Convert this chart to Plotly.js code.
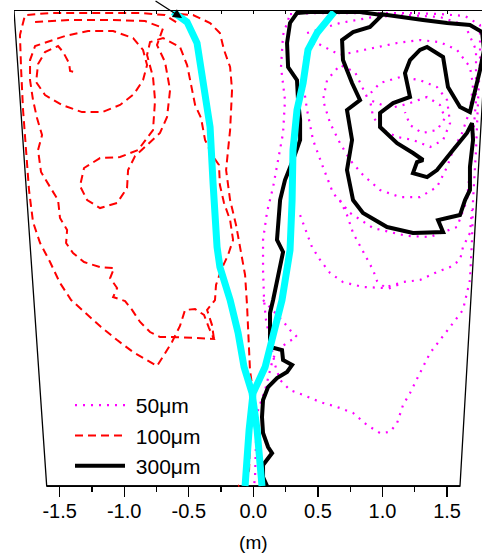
<!DOCTYPE html>
<html>
<head>
<meta charset="utf-8">
<script src="https://cdn.plot.ly/plotly-3.0.1.min.js"></script>
<style>html,body{margin:0;padding:0;background:#fff}#chart{width:482px;height:554px}</style>
</head>
<body>
<div id="chart"></div>
<script>
// ---- tick labels ----
const majorTicks = [-1.5, -1.0, -0.5, 0.0, 0.5, 1.0, 1.5];
const majorTickText = ['-1.5', '-1.0', '-0.5', '0.0', '0.5', '1.0', '1.5'];
const minorTicks = [-1.25, -0.75, -0.25, 0.25, 0.75, 1.25];
const seriesNames = ['50\u03bcm', '100\u03bcm', '300\u03bcm'];

// ---- vessel outline (m) ----
const vesselX = [-1.853, -1.6, 1.6, 1.814];
const vesselY = [3.678, 0, 0, 3.678];

// ---- jet (cyan) ----
const jetA_x = [-0.622, -0.513, -0.436, -0.389, -0.335, -0.312, -0.297, -0.281, -0.259, -0.180, -0.118, -0.072, -0.010, 0.029, 0.067];
const jetA_y = [3.670, 3.592, 3.430, 3.120, 2.779, 2.346, 2.059, 1.850, 1.695, 1.440, 1.185, 0.921, 0.720, 0.434, 0.000];
const jetB_x = [0.625, 0.555, 0.493, 0.423, 0.385, 0.338, 0.307, 0.300, 0.284, 0.222, 0.153, 0.091, -0.002, -0.033, -0.064];
const jetB_y = [3.670, 3.592, 3.507, 3.376, 3.120, 2.911, 2.601, 2.214, 1.827, 1.440, 1.185, 0.921, 0.720, 0.434, 0.000];

// ---- 300 um (black) ----
const p300_x = [0.981, 1.136, 1.314, 1.500, 1.677, 1.771, 1.786, 1.755, 1.709, 1.677,
  1.600, 1.507, 1.469, 1.345, 1.290, 1.213, 1.174, 1.213, 1.082, 0.981, 0.981, 1.113, 1.236, 1.314, 1.267, 1.236, 1.345, 1.422, 1.546, 1.654, 1.693,
  1.701, 1.677, 1.677, 1.639, 1.600, 1.500, 1.430, 1.469, 1.236, 1.035, 0.849, 0.772, 0.725, 0.764, 0.725, 0.826, 0.764, 0.694, 0.687, 0.772, 0.903, 0.996,
  0.826, 0.648, 0.439, 0.338, 0.284, 0.261, 0.269, 0.338, 0.346, 0.362, 0.362, 0.307, 0.245, 0.207, 0.183, 0.230, 0.207, 0.153, 0.129, 0.129,
  0.222, 0.230, 0.300, 0.261, 0.183, 0.114, 0.075, 0.067, 0.075, 0.114, 0.145, 0.106, 0.075, 0.075, 0.106];
const p300_y = [3.654, 3.631, 3.608, 3.585, 3.569, 3.515, 3.376, 3.221, 3.027, 2.895,
  2.934, 3.089, 3.321, 3.399, 3.376, 3.298, 3.197, 3.012, 2.965, 2.888, 2.779, 2.655, 2.578, 2.524, 2.508, 2.423, 2.392, 2.446, 2.601, 2.733, 2.810,
  2.679, 2.470, 2.292, 2.214, 2.098, 2.075, 2.059, 1.966, 1.959, 2.005, 2.114, 2.214, 2.446, 2.679, 2.911, 2.988, 3.120, 3.298, 3.453, 3.515, 3.554, 3.646,
  3.670, 3.670, 3.670, 3.662, 3.585, 3.430, 3.244, 3.143, 2.988, 2.834, 2.679, 2.524, 2.369, 2.214, 1.905, 1.812, 1.695, 1.440, 1.339, 1.076,
  1.053, 0.975, 0.937, 0.883, 0.836, 0.766, 0.666, 0.534, 0.410, 0.302, 0.255, 0.201, 0.163, 0.070, 0.000];

// ---- 100 um (red) : three trajectory pieces ----
const p100a_x = [-0.598, -0.684, -0.877, -1.109, -1.342, -1.574, -1.768, -1.807, -1.798, -1.783, -1.760, -1.737, -1.706, -1.651, -1.574, -1.497, -1.411, -1.295, -1.179, -1.055, -0.931, -0.823, -0.746,
  -0.692, -0.630, -0.568, -0.529, -0.451, -0.382, -0.343, -0.305, -0.451, -0.606, -0.723, -0.800, -0.877, -0.939, -0.993, -1.086, -1.055, -1.109, -1.078, -1.187, -1.311, -1.396, -1.450, -1.442, -1.497, -1.512, -1.574, -1.644, -1.667, -1.636, -1.675, -1.706, -1.729, -1.729, -1.690,
  -1.613, -1.458, -1.280, -1.086, -0.931, -0.854, -0.823, -0.854, -0.924, -1.032, -1.171, -1.326, -1.481, -1.613, -1.682, -1.667, -1.613, -1.512, -1.473, -1.427, -1.419, -1.380];
const p100a_y = [3.592, 3.646, 3.662, 3.662, 3.662, 3.662, 3.646, 3.492, 3.221, 2.911, 2.601, 2.292, 2.044, 1.881, 1.734, 1.572, 1.440, 1.332, 1.231, 1.130, 1.037, 0.975, 0.929,
  1.014, 1.115, 1.239, 1.363, 1.370, 1.324, 1.223, 1.138, 1.146, 1.154, 1.154, 1.192, 1.270, 1.363, 1.432, 1.463, 1.533, 1.610, 1.688, 1.695, 1.734, 1.804, 1.881, 1.982, 2.075, 2.214, 2.315, 2.431, 2.601, 2.717, 2.849, 2.988, 3.143, 3.298, 3.406,
  3.430, 3.484, 3.523, 3.523, 3.468, 3.376, 3.259, 3.143, 3.035, 2.950, 2.895, 2.895, 2.950, 3.027, 3.128, 3.267, 3.360, 3.406, 3.360, 3.275, 3.213, 3.205];
const p100b_x = [-1.690, -1.419, -1.109, -0.839, -0.699, -0.746, -0.684, -0.645, -0.668, -0.723, -0.823, -0.916, -0.970, -0.978, -1.055, -1.187, -1.287, -1.342, -1.311, -1.187, -1.032, -0.893, -0.777, -0.761, -0.777, -0.823, -0.800, -0.699,
  -0.568, -0.513, -0.482, -0.451, -0.405, -0.374, -0.320, -0.266, -0.259, -0.227, -0.180, -0.157, -0.196, -0.250, -0.289, -0.297, -0.358, -0.320, -0.305];
const p100b_y = [3.592, 3.608, 3.608, 3.600, 3.546, 3.414, 3.283, 3.066, 2.857, 2.733, 2.640, 2.555, 2.446, 2.307, 2.191, 2.152, 2.214, 2.323, 2.462, 2.539, 2.547, 2.601, 2.756, 2.988, 3.166, 3.337, 3.437, 3.468,
  3.399, 3.259, 3.105, 2.950, 2.849, 2.679, 2.563, 2.485, 2.330, 2.191, 2.059, 1.905, 1.788, 1.672, 1.556, 1.440, 1.363, 1.246, 1.138];
const p100c_x = [-0.568, -0.467, -0.335, -0.259, -0.227, -0.180, -0.165, -0.173, -0.180, -0.196, -0.211, -0.180, -0.134, -0.103, -0.064, -0.049, -0.041, -0.026, -0.002, -0.026, -0.033, -0.064, -0.118];
const p100c_y = [3.654, 3.646, 3.585, 3.507, 3.376, 3.244, 3.066, 2.911, 2.756, 2.601, 2.446, 2.214, 2.021, 1.850, 1.634, 1.401, 1.169, 0.898, 0.720, 0.356, 0.124, 0.023, 0.000];

// ---- 50 um (magenta) ----
const p50a_x = [0.284, 0.517, 0.749, 0.981, 1.213, 1.445, 1.639, 1.755, 1.755, 1.740, 1.724, 1.701, 1.693, 1.677, 1.623, 1.523, 1.445, 1.368, 1.290, 1.213, 1.159, 1.113, 1.058, 0.981, 0.880, 0.772, 0.648, 0.517, 0.385, 0.284, 0.207, 0.168, 0.145, 0.122, 0.098, 0.083, 0.075, 0.075, 0.106, 0.153, 0.191, 0.230, 0.245, 0.214, 0.230, 0.284];
const p50a_y = [3.654, 3.662, 3.662, 3.662, 3.662, 3.654, 3.639, 3.569, 3.298, 2.988, 2.601, 2.214, 1.905, 1.595, 1.363, 1.231, 1.130, 1.030, 0.875, 0.720, 0.627, 0.488, 0.418, 0.410, 0.472, 0.565, 0.612, 0.650, 0.705, 0.743, 0.821, 0.937, 1.053, 1.169, 1.285, 1.440, 1.672, 1.905, 2.121, 2.315, 2.524, 2.733, 2.988, 3.244, 3.492, 3.654];
const p50b_x = [0.075, 0.145, 0.222, 0.284, 0.338, 0.269, 0.207, 0.153, 0.129, 0.091, 0.036, 0.021, 0.013, 0.005];
const p50b_y = [1.440, 1.363, 1.285, 1.208, 1.154, 1.115, 1.068, 0.991, 0.898, 0.743, 0.588, 0.356, 0.070, 0.000];
const p50c_x = [0.416, 0.671, 0.927, 1.190, 1.445, 1.639, 1.724, 1.724, 1.693, 1.654, 1.577, 1.368, 1.190, 0.927, 0.749, 0.617, 0.539, 0.462, 0.416, 0.385, 0.400, 0.478,
  0.671, 0.927, 1.113, 1.290, 1.445, 1.577, 1.677, 1.701, 1.677, 1.616, 1.546, 1.500, 1.422, 1.290, 1.136, 0.981, 0.849, 0.749, 0.671, 0.594, 0.539, 0.571, 0.671, 0.787,
  0.880, 0.981, 1.136, 1.290, 1.422, 1.500, 1.523, 1.469, 1.368, 1.236, 1.113, 1.004, 0.927, 0.903,
  1.058, 1.190, 1.345, 1.445, 1.484, 1.422, 1.306, 1.213, 1.174];
const p50c_y = [3.507, 3.585, 3.631, 3.646, 3.631, 3.569, 3.376, 2.988, 2.601, 2.214, 2.005, 1.928, 1.936, 1.997, 2.114, 2.268, 2.470, 2.679, 2.911, 3.120, 3.337, 3.437,
  3.337, 3.391, 3.430, 3.453, 3.437, 3.376, 3.244, 3.105, 2.911, 2.733, 2.601, 2.470, 2.315, 2.237, 2.237, 2.292, 2.408, 2.524, 2.655, 2.810, 2.988, 3.143, 3.259, 3.205,
  3.012, 3.120, 3.166, 3.143, 3.089, 2.988, 2.810, 2.679, 2.625, 2.679, 2.702, 2.756, 2.857, 2.988,
  2.926, 2.957, 3.012, 2.950, 2.849, 2.756, 2.733, 2.795, 2.895];
const p50d_x = [0.362, 0.454, 0.517, 0.594, 0.694, 0.849, 1.004, 1.159, 1.290, 1.422, 1.523, 1.600, 1.623, 1.677, 1.693];
const p50d_y = [2.098, 1.850, 1.750, 1.649, 1.579, 1.541, 1.533, 1.579, 1.595, 1.657, 1.695, 1.750, 1.850, 1.959, 2.137];
const p50e_x = [0.671, 0.725, 0.772, 0.849, 0.927, 0.958, 1.035, 1.159];
const p50e_y = [2.214, 2.098, 1.959, 1.812, 1.672, 1.587, 1.525, 1.572];

// ---- page geometry (pixels) ----
const W = 482, H = 554;
const axL = 46.7, axR = 460, axBottom = 486, axTop = 11, innerLeft = 14;
const xr = [-1.6, 1.6];
const s = (axR - axL) / (xr[1] - xr[0]);
const x2range = [xr[0] - (axL - innerLeft) / s, xr[1] + (W - axR) / s];
const y2range = [-(H - axBottom) / s, (axBottom - axTop) / s];

const FONT = 'Arial, "Liberation Sans", sans-serif';
const MAG = '#ff00ff', RED = '#ff0000', CYAN = '#00ffff';
const DOT = '2px,6px', DASH = '8px,5px';

function tr(x, y, color, width, dash, name, show) {
  return {x: x, y: y, xaxis: 'x2', yaxis: 'y2', type: 'scatter', mode: 'lines',
    line: {color: color, width: width, dash: dash}, name: name ? ' ' + name : '', showlegend: !!show,
    hoverinfo: 'skip'};
}

const traces = [
  {x: [xr[0], xr[1]], y: [0, 0], xaxis: 'x', yaxis: 'y', mode: 'lines', line: {color: '#000', width: 1.3}, showlegend: false, hoverinfo: 'skip'},
  tr(vesselX, vesselY, '#000', 1.3, 'solid', null, false),
  tr(p50a_x, p50a_y, MAG, 2.2, DOT, seriesNames[0], true),
  tr(p50b_x, p50b_y, MAG, 2.2, DOT, seriesNames[0], false),
  tr(p50c_x, p50c_y, MAG, 2.2, DOT, seriesNames[0], false),
  tr(p50d_x, p50d_y, MAG, 2.2, DOT, seriesNames[0], false),
  tr(p50e_x, p50e_y, MAG, 2.2, DOT, seriesNames[0], false),
  tr(p100a_x, p100a_y, RED, 2, DASH, seriesNames[1], true),
  tr(p100b_x, p100b_y, RED, 2, DASH, seriesNames[1], false),
  tr(p100c_x, p100c_y, RED, 2, DASH, seriesNames[1], false),
  tr(p300_x, p300_y, '#000', 4, 'solid', seriesNames[2], true),
  tr(jetA_x, jetA_y, CYAN, 7, 'solid', null, false),
  tr(jetB_x, jetB_y, CYAN, 7, 'solid', null, false)
];

const layout = {
  width: W, height: H,
  margin: {l: 0, r: 0, t: 0, b: 0},
  paper_bgcolor: '#fff', plot_bgcolor: 'rgba(0,0,0,0)',
  font: {family: FONT, color: '#000', size: 20},
  showlegend: true,
  legend: {x: 70 / W, y: 1 - 385 / H, xanchor: 'left', yanchor: 'top', bgcolor: 'rgba(0,0,0,0)',
    font: {family: FONT, size: 21, color: '#000'}, itemwidth: 50, tracegroupgap: 0, traceorder: 'normal'},
  xaxis: {domain: [axL / W, axR / W], range: xr, anchor: 'y', showline: true, linecolor: '#000', linewidth: 1.3,
    ticks: 'outside', ticklen: 10, tickwidth: 1.3, tickcolor: '#000', tickmode: 'array', tickvals: majorTicks, ticktext: majorTickText,
    minor: {tickmode: 'array', tickvals: minorTicks, ticks: 'outside', ticklen: 5, tickwidth: 1.3, tickcolor: '#000'},
    tickfont: {family: FONT, size: 20}, ticklabelstandoff: -3, showgrid: false, zeroline: false, fixedrange: true,
    title: {text: '(m)', font: {family: FONT, size: 19}, standoff: 14}},
  yaxis: {domain: [(H - axBottom) / H, (H - axTop) / H], range: [0, y2range[1]], anchor: 'x', visible: false, fixedrange: true},
  xaxis2: {domain: [innerLeft / W, 1], range: x2range, anchor: 'y2', side: 'top', showline: true, linecolor: '#000', linewidth: 1.3,
    ticks: 'inside', ticklen: 3, tickwidth: 1, tickcolor: '#000', tickmode: 'array', tickvals: majorTicks.concat(minorTicks),
    showticklabels: false, showgrid: false, zeroline: false, fixedrange: true},
  yaxis2: {domain: [0, (H - axTop) / H], range: y2range, anchor: 'x2', visible: false, fixedrange: true},
  annotations: [{xref: 'x2', yref: 'y2', x: jetA_x[0] + 0.07, y: 3.623, text: '', showarrow: true,
    arrowhead: 2, arrowsize: 1.4, arrowwidth: 1.3, arrowcolor: '#000', ax: -28, ay: -26}]
};

Plotly.newPlot('chart', traces, layout, {displayModeBar: false, staticPlot: true});
</script>
</body>
</html>
